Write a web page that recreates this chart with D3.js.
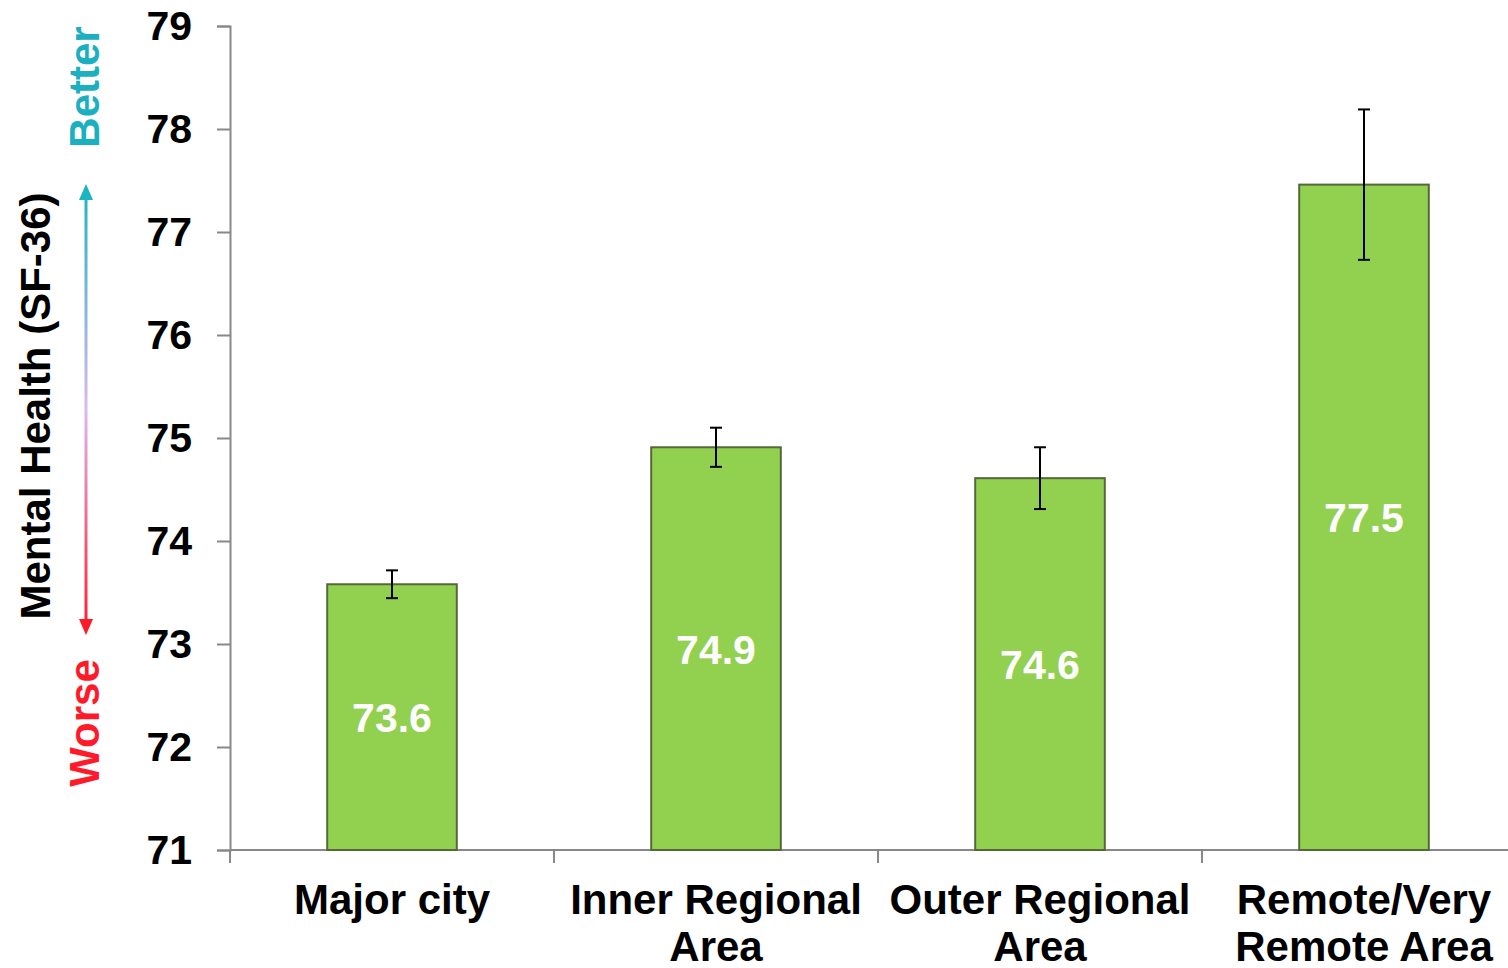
<!DOCTYPE html>
<html>
<head>
<meta charset="utf-8">
<script src="https://cdn.jsdelivr.net/npm/d3@7/dist/d3.min.js"></script>
<style>
  html, body { margin: 0; padding: 0; background: #fff; }
  svg { display: block; font-family: "Liberation Sans", Arial, sans-serif; }
</style>
</head>
<body>
<svg id="chart" width="1508" height="968"></svg>
<script>
const categories = [["Major city"], ["Inner Regional", "Area"], ["Outer Regional", "Area"], ["Remote/Very", "Remote Area"]];
const values = [73.58, 74.91, 74.61, 77.46];
const errors = [0.135, 0.19, 0.30, 0.73];
const yTicks = [71, 72, 73, 74, 75, 76, 77, 78, 79];

const svg = d3.select("#chart");
const keys = categories.map(c => c.join(" "));

const x = d3.scaleBand().domain(keys).range([230, 1526]).padding(0);
const y = d3.scaleLinear().domain([71, 79]).range([850, 26]);

const axisColor = "#888888";

// Y axis
const yAxis = svg.append("g").attr("transform", "translate(230,0)")
  .call(d3.axisLeft(y).tickValues(yTicks).tickSize(13).tickPadding(25).tickFormat(d3.format("d")));
yAxis.select(".domain").attr("stroke", axisColor).attr("stroke-width", 2);
yAxis.selectAll(".tick line").attr("stroke", axisColor).attr("stroke-width", 2);
yAxis.selectAll(".tick text").attr("fill", "#000").style("font-size", "41px").style("font-weight", "bold")
  .style("font-family", "'Liberation Sans', Arial, sans-serif");

// X axis (ticks at band boundaries)
const xg = svg.append("g");
xg.append("line").attr("x1", 230).attr("x2", 1508).attr("y1", y(71)).attr("y2", y(71))
  .attr("stroke", axisColor).attr("stroke-width", 2);
const bounds = keys.map(k => x(k));
xg.selectAll("line.xt").data(bounds).join("line").attr("class", "xt")
  .attr("x1", d => d).attr("x2", d => d).attr("y1", y(71)).attr("y2", y(71) + 13)
  .attr("stroke", axisColor).attr("stroke-width", 2);

// X labels
const lab = svg.append("g").selectAll("text").data(categories).join("text")
  .attr("x", (d, i) => x(keys[i]) + x.bandwidth() / 2)
  .attr("y", 914)
  .attr("text-anchor", "middle")
  .style("font-size", "42px").style("font-weight", "bold").attr("fill", "#000");
lab.selectAll("tspan").data(d => d).join("tspan")
  .attr("x", function() { return d3.select(this.parentNode).attr("x"); })
  .attr("dy", (d, i) => i === 0 ? 0 : 47)
  .text(d => d);

// Bars
const bw = x.bandwidth() * 0.4;
svg.append("g").selectAll("rect").data(values).join("rect")
  .attr("x", (d, i) => x(keys[i]) + x.bandwidth() / 2 - bw / 2)
  .attr("y", d => y(d))
  .attr("width", bw)
  .attr("height", d => y(71) - y(d))
  .attr("fill", "#92d050")
  .attr("stroke", "#56683a")
  .attr("stroke-width", 2);

// Error bars
const eg = svg.append("g").attr("stroke", "#000").attr("stroke-width", 2);
values.forEach((v, i) => {
  const cx = x(keys[i]) + x.bandwidth() / 2;
  const y1 = y(v + errors[i]), y2 = y(v - errors[i]);
  eg.append("line").attr("x1", cx).attr("x2", cx).attr("y1", y1).attr("y2", y2);
  eg.append("line").attr("x1", cx - 6).attr("x2", cx + 6).attr("y1", y1).attr("y2", y1);
  eg.append("line").attr("x1", cx - 6).attr("x2", cx + 6).attr("y1", y2).attr("y2", y2);
});

// Value labels
svg.append("g").selectAll("text").data(values).join("text")
  .attr("x", (d, i) => x(keys[i]) + x.bandwidth() / 2)
  .attr("y", d => (y(d) + y(71)) / 2 + 15)
  .attr("text-anchor", "middle")
  .attr("fill", "#fff")
  .style("font-size", "41px").style("font-weight", "bold")
  .text(d => d3.format(".1f")(d));

// Y axis title
svg.append("text")
  .attr("transform", "translate(50,406) rotate(-90)")
  .attr("text-anchor", "middle")
  .style("font-size", "42px").style("font-weight", "bold").attr("fill", "#000")
  .text("Mental Health (SF-36)");

svg.append("text")
  .attr("transform", "translate(99,87) rotate(-90)")
  .attr("text-anchor", "middle")
  .style("font-size", "42px").style("font-weight", "bold").attr("fill", "#1ab0bf")
  .text("Better");

svg.append("text")
  .attr("transform", "translate(99,723) rotate(-90)")
  .attr("text-anchor", "middle")
  .style("font-size", "42px").style("font-weight", "bold").attr("fill", "#ff1a2a")
  .text("Worse");

// Gradient double arrow
const defs = svg.append("defs");
const grad = defs.append("linearGradient").attr("id", "arrowGrad")
  .attr("gradientUnits", "userSpaceOnUse").attr("x1", 0).attr("x2", 0).attr("y1", 184).attr("y2", 635);
grad.append("stop").attr("offset", "0%").attr("stop-color", "#1ab4c2");
grad.append("stop").attr("offset", "50%").attr("stop-color", "#ddb8f2");
grad.append("stop").attr("offset", "100%").attr("stop-color", "#ff1a2a");

const ax = 86;
svg.append("rect").attr("x", ax - 1.5).attr("y", 196).attr("width", 3).attr("height", 427).attr("fill", "url(#arrowGrad)");
svg.append("path").attr("d", `M${ax},184 L${ax - 7},200 L${ax + 7},200 Z`).attr("fill", "#1ab4c2");
svg.append("path").attr("d", `M${ax},635 L${ax - 7},619 L${ax + 7},619 Z`).attr("fill", "#ff1a2a");
</script>
</body>
</html>
